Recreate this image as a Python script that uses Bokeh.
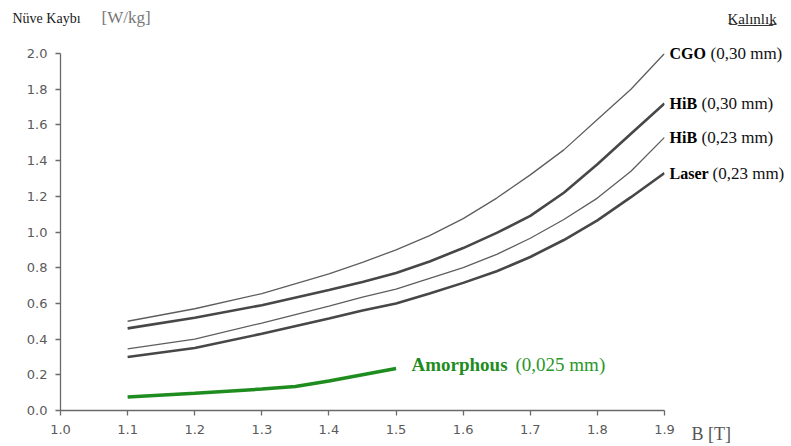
from bokeh.plotting import figure
from bokeh.models import Label, FixedTicker, NumeralTickFormatter
from bokeh.embed import file_html
from bokeh.resources import INLINE

# Flux density B [T]
b = [1.1, 1.2, 1.3, 1.4, 1.45, 1.5, 1.55, 1.6, 1.65, 1.7, 1.75, 1.8, 1.85, 1.9]

# Core loss [W/kg] per lamination grade
cgo_030 = [0.50, 0.57, 0.655, 0.765, 0.83, 0.90, 0.98, 1.075, 1.19, 1.32, 1.46, 1.63, 1.80, 2.00]
hib_030 = [0.46, 0.52, 0.59, 0.675, 0.72, 0.77, 0.835, 0.91, 0.995, 1.09, 1.22, 1.38, 1.55, 1.72]
hib_023 = [0.345, 0.40, 0.49, 0.585, 0.635, 0.68, 0.74, 0.80, 0.875, 0.965, 1.07, 1.19, 1.34, 1.53]
laser_023 = [0.30, 0.35, 0.43, 0.515, 0.56, 0.60, 0.655, 0.715, 0.78, 0.86, 0.955, 1.065, 1.195, 1.33]

b_amorph = [1.1, 1.2, 1.3, 1.35, 1.4, 1.45, 1.5]
amorph_0025 = [0.075, 0.097, 0.12, 0.135, 0.165, 0.20, 0.235]

series_names = ["CGO", "HiB", "HiB", "Laser"]
series_thickness = ["(0,30 mm)", "(0,30 mm)", "(0,23 mm)", "(0,23 mm)"]

y_ticks = [0.0, 0.2, 0.4, 0.6, 0.8, 1.0, 1.2, 1.4, 1.6, 1.8, 2.0]
x_ticks = [1.0, 1.1, 1.2, 1.3, 1.4, 1.5, 1.6, 1.7, 1.8, 1.9]

SERIF = "Liberation Serif"
SANS = "DejaVu Sans"
AXIS_GREY = "#6a6a6a"
GREEN = "#1f8c1f"

FRAME_L, FRAME_W, FRAME_B, FRAME_H = 60, 604, 410, 357
X0, X1, Y0, Y1 = 1.0, 1.9, 0.0, 2.0


def canvas_y(v):
    # canvas pixel row of a value on the loss axis
    return FRAME_B - (v - Y0) * FRAME_H / (Y1 - Y0)


p = figure(
    frame_width=FRAME_W, frame_height=FRAME_H,
    min_border_left=FRAME_L, min_border_right=791 - FRAME_L - FRAME_W,
    min_border_top=FRAME_B - FRAME_H, min_border_bottom=446 - FRAME_B,
    x_range=(X0, X1), y_range=(Y0, Y1),
    output_backend="svg", toolbar_location=None,
)
p.outline_line_color = None
p.grid.visible = False
p.background_fill_color = "white"
p.border_fill_color = "white"

for ax in (p.xaxis[0], p.yaxis[0]):
    ax.axis_line_color = AXIS_GREY
    ax.axis_line_width = 1.3
    ax.major_tick_line_color = AXIS_GREY
    ax.major_tick_line_width = 1.3
    ax.major_tick_in = 0
    ax.major_tick_out = 5
    ax.minor_tick_line_color = None
    ax.major_label_text_font = SANS
    ax.major_label_text_font_size = "13px"
    ax.major_label_text_color = "#5a5a5a"

p.xaxis.ticker = FixedTicker(ticks=x_ticks)
p.yaxis.ticker = FixedTicker(ticks=y_ticks)
p.xaxis.formatter = NumeralTickFormatter(format="0.0")
p.yaxis.formatter = NumeralTickFormatter(format="0.0")
p.xaxis.major_label_standoff = 9
p.yaxis.major_label_standoff = 8

# Loss curves: thin lines for CGO / HiB 0.23, heavy lines for HiB 0.30 / Laser
p.line(b, cgo_030, line_color="#5e5e5e", line_width=1.3)
p.line(b, hib_030, line_color="#474747", line_width=2.6)
p.line(b, hib_023, line_color="#5e5e5e", line_width=1.3)
p.line(b, laser_023, line_color="#474747", line_width=2.6)
p.line(b_amorph, amorph_0025, line_color=GREEN, line_width=3.5)


def text_at(cx, cy, text, side, size, color, bold=False):
    lab = Label(x=cx, y=cy, x_units="canvas", y_units="canvas", text=text,
                text_font=SERIF, text_font_size=size, text_color=color,
                text_font_style="bold" if bold else "normal",
                text_baseline="middle")
    if side == "center":
        p.add_layout(lab)
    else:
        p.add_layout(lab, side)


# Curve labels at the right-hand ends: bold grade name + lamination thickness
ends = [cgo_030[-1], hib_030[-1], hib_023[-1], laser_023[-1]]
name_widths = [37, 28, 28, 39]
for name, thick, y, w in zip(series_names, series_thickness, ends, name_widths):
    text_at(669, canvas_y(y), name, "right", "16px", "black", bold=True)
    text_at(669 + w + 4, canvas_y(y), thick, "right", "17px", "#111111")

text_at(411, 364, "Amorphous", "center", "19px", GREEN, bold=True)
text_at(515, 364, "(0,025 mm)", "center", "19px", "#2a972a")

# Axis titles and column heading
text_at(12, 18, "Nüve Kaybı", "above", "14px", "#1a1a1a")
text_at(101, 17, "[W/kg]", "above", "17px", "#777777")
text_at(727, 18, "K\u0332a\u0332l\u0332\u0131\u0332n\u0332l\u0332\u0131\u0332k\u0332",
        "above", "15px", "#1a1a1a")
text_at(691, 433, "B [T]", "below", "18px", "#555555")

open("out.html", "w").write(file_html(p, INLINE))
